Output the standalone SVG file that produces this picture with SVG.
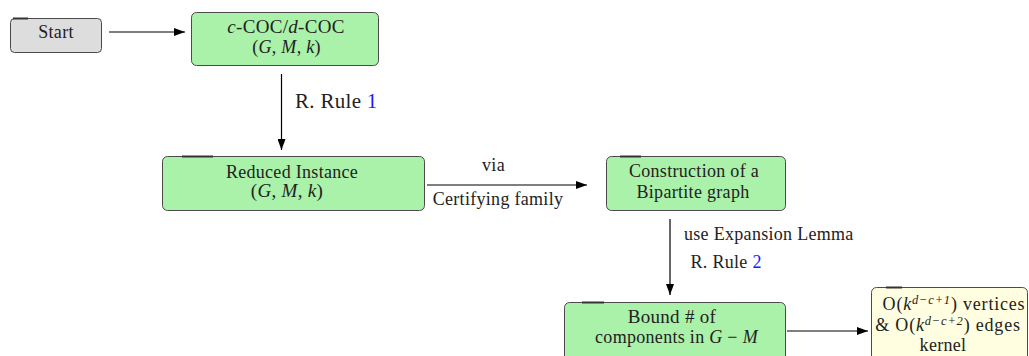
<svg xmlns="http://www.w3.org/2000/svg" width="1029" height="356" viewBox="0 0 1029 356">
<style>
text{font-size:18px;fill:#222;letter-spacing:0.3px;}
.c{text-anchor:middle;}
.i{font-style:italic;}
.box{stroke:#4a4a4a;stroke-width:1;}
.g{fill:#aaf1a9;}
.gray{fill:#dddddd;}
.y{fill:#fffee0;}
.mark{stroke:#333;stroke-width:2;}
.edge{stroke:#000;stroke-width:1.2;fill:none;marker-end:url(#ah);}
.blue{fill:#1a1aff;}
.sup{font-size:12.5px;}
.k{letter-spacing:0.8px;}
</style>
<defs>
<marker id="ah" markerWidth="11" markerHeight="8" refX="11" refY="4" orient="auto" markerUnits="userSpaceOnUse">
<path d="M0,0 L11,4 L0,8 z" fill="#000"/>
</marker>
</defs>
<g id="start">
<rect class="box gray" x="10.5" y="18.5" width="91" height="34" rx="4"/>
<line class="mark" x1="13" y1="18.5" x2="28" y2="18.5"/>
<text font-family="Liberation Serif" class="c" x="56" y="38">Start</text>
</g>
<g id="coc">
<rect class="box g" x="191.5" y="12.5" width="187" height="53" rx="5"/>
<text font-family="Liberation Serif" class="c" x="286" y="33" style="font-size:19px"><tspan class="i">c</tspan>-COC/<tspan class="i">d</tspan>-COC</text>
<text font-family="Liberation Serif" class="c" x="286.5" y="53">(<tspan class="i">G</tspan>, <tspan class="i">M</tspan>, <tspan class="i">k</tspan>)</text>
</g>
<g id="reduced">
<rect class="box g" x="162.5" y="156.5" width="262" height="54" rx="5"/>
<line class="mark" x1="182" y1="156.5" x2="213" y2="156.5"/>
<text font-family="Liberation Serif" class="c" x="292" y="178">Reduced Instance</text>
<text font-family="Liberation Serif" class="c" x="287" y="197" style="font-size:19px">(<tspan class="i">G</tspan>, <tspan class="i">M</tspan>, <tspan class="i">k</tspan>)</text>
</g>
<g id="bipartite">
<rect class="box g" x="606.5" y="156.5" width="179" height="54" rx="5"/>
<line class="mark" x1="620" y1="156.5" x2="641" y2="156.5"/>
<text font-family="Liberation Serif" class="c" x="694" y="177">Construction of a</text>
<text font-family="Liberation Serif" class="c" x="693" y="198">Bipartite graph</text>
</g>
<g id="bound">
<rect class="box g" x="564.5" y="302.5" width="221" height="60" rx="5"/>
<line class="mark" x1="582" y1="302.5" x2="604" y2="302.5"/>
<text font-family="Liberation Serif" class="c" x="672" y="323" style="font-size:19px">Bound # of</text>
<text font-family="Liberation Serif" class="c" x="676.5" y="343">components in <tspan class="i">G</tspan> − <tspan class="i">M</tspan></text>
</g>
<g id="kernel">
<rect class="box y" x="871.5" y="287.5" width="156" height="80" rx="5"/>
<line class="mark" x1="886" y1="287.5" x2="902" y2="287.5"/>
<text font-family="Liberation Serif" class="c k" x="954" y="310">O(<tspan class="i">k</tspan><tspan class="sup i" dy="-6">d−c+1</tspan><tspan dy="6">) vertices</tspan></text>
<text font-family="Liberation Serif" class="c k" x="948" y="331">&amp; O(<tspan class="i">k</tspan><tspan class="sup i" dy="-6">d−c+2</tspan><tspan dy="6">) edges</tspan></text>
<text font-family="Liberation Serif" class="c" x="943" y="351">kernel</text>
</g>
<g id="connectors">
<line class="edge" x1="109" y1="32" x2="185" y2="32"/>
<line class="edge" x1="281.5" y1="74" x2="281.5" y2="150"/>
<line class="edge" x1="427" y1="185" x2="587" y2="185"/>
<line class="edge" x1="670" y1="219" x2="670" y2="295"/>
<line class="edge" x1="787" y1="331" x2="868" y2="331"/>
<text font-family="Liberation Serif" x="295" y="108" style="font-size:21px">R. Rule <tspan class="blue">1</tspan></text>
<text font-family="Liberation Serif" class="c" x="493.5" y="171">via</text>
<text font-family="Liberation Serif" class="c" x="498" y="205">Certifying family</text>
<text font-family="Liberation Serif" x="684" y="240">use Expansion Lemma</text>
<text font-family="Liberation Serif" x="690.5" y="268">R. Rule <tspan class="blue">2</tspan></text>
</g>
</svg>
